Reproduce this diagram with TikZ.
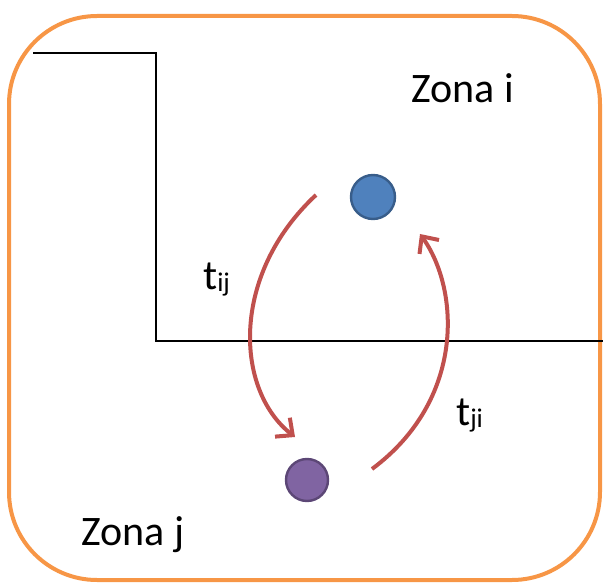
\documentclass[tikz,border=0pt]{standalone}
\usepackage{fontspec}
\setmainfont{Carlito}
\usetikzlibrary{arrows.meta}
\definecolor{zoneorange}{HTML}{F79646}
\definecolor{flowred}{HTML}{C0504D}
\definecolor{ibluef}{HTML}{4F81BD}
\definecolor{iblued}{HTML}{385D8A}
\definecolor{jpurpf}{HTML}{8064A2}
\definecolor{jpurpd}{HTML}{5C4776}
\tikzset{
  zonebox/.style={draw=zoneorange, line width=4pt, rounded corners=88pt},
  border/.style={draw=black, line width=1.8pt},
  centroid/.style={circle, minimum size=44pt, inner sep=0pt, line width=2.4pt},
  flow/.style={draw=flowred, line width=4pt, -{Straight Barb[length=13pt,width=24pt,line width=4pt]}},
  lbl/.style={font=\fontsize{42}{48}\selectfont, inner sep=0pt, anchor=base west},
}
\newcommand{\sbx}[1]{\raisebox{-2pt}{\fontsize{27}{30}\selectfont #1}}
\begin{document}
\begin{tikzpicture}[x=1pt,y=-1pt]
\useasboundingbox (0,0) rectangle (603,583);
\draw[zonebox] (9,16) rectangle (600,580);
\draw[border] (33,53) -- (156,53) -- (156,341) -- (603,341);
\node[centroid, fill=ibluef, draw=iblued] (ni) at (373,197) {};
\node[centroid, fill=jpurpf, draw=jpurpd, minimum size=42pt] (nj) at (307,480) {};
\coordinate (a1) at (316,195);
\coordinate (a2) at (295,437);
\coordinate (b1) at (372,469);
\coordinate (b2) at (420,234);
\draw[flow] (a1) .. controls (230,275) and (235,390) .. (a2);
\draw[flow] (b1) .. controls (465,400) and (460,290) .. (b2);
\node[lbl] (zi) at (411,103) {Zona i};
\node[lbl] (zj) at (81,545) {Zona j};
\node[lbl] (tij) at (203,289) {t\sbx{ij}};
\node[lbl] (tji) at (456,425) {t\sbx{ji}};
\end{tikzpicture}
\end{document}
